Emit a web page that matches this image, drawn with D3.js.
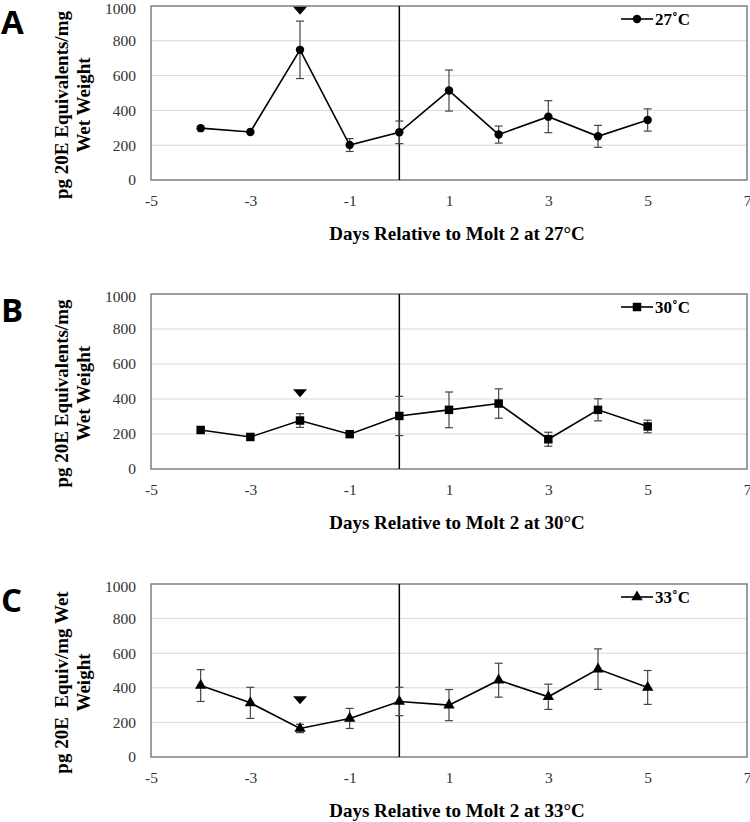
<!DOCTYPE html>
<html><head><meta charset="utf-8">
<script src="https://cdn.jsdelivr.net/npm/d3@7"></script>
<style>body{margin:0;background:#fff} .serif{font-family:'Liberation Serif','Times New Roman',serif}</style>
</head><body><svg id="c" width="750" height="822" xmlns="http://www.w3.org/2000/svg"></svg>
<script>
// ---- data ----
const days = [-4, -3, -2, -1, 0, 1, 2, 3, 4, 5];
const mean27 = [298, 276, 748, 201, 274, 514, 261, 364, 251, 345];
const err27  = [0, 0, 165, 37, 65, 118, 49, 92, 63, 64];
const mean30 = [223, 183, 277, 199, 303, 338, 374, 170, 338, 243];
const err30  = [0, 0, 39, 0, 112, 102, 84, 40, 63, 36];
const mean33 = [413, 313, 165, 223, 321, 300, 444, 348, 508, 402];
const err33  = [92, 90, 24, 58, 82, 90, 98, 73, 117, 98];
const xTicks = [-5, -3, -1, 1, 3, 5, 7];
const yTicks = [0, 200, 400, 600, 800, 1000];
const panelLetters = ["A", "B", "C"];
const seriesNames = ["27\u02daC", "30\u02daC", "33\u02daC"];
const xTitles = ["Days Relative to Molt 2 at 27°C", "Days Relative to Molt 2 at 30°C", "Days Relative to Molt 2 at 33°C"];
const yTitles = [["pg 20E Equivalents/mg", "Wet Weight"], ["pg 20E Equivalents/mg", "Wet Weight"], ["pg 20E  Equiv/mg Wet", "Weight"]];
const arrowDay = [-2, -2, -2];
const arrowVal = [973, 433, 328];
const markerTypes = ["circle", "square", "triangle"];

const panels = [
  {top: 6, bottom: 180, mean: mean27, err: err27},
  {top: 294, bottom: 469, mean: mean30, err: err30},
  {top: 584, bottom: 757, mean: mean33, err: err33}
];

const svg = d3.select("#c");
const left = 151, right = 747;
const serif = "'Liberation Serif','Times New Roman',serif";

function symFor(t) {
  if (t === "circle") return d3.symbol().type(d3.symbolCircle).size(56)();
  if (t === "square") return d3.symbol().type(d3.symbolSquare).size(72)();
  return d3.symbol().type(d3.symbolTriangle).size(56)();
}

panels.forEach((p, i) => {
  const g = svg.append("g");
  const x = d3.scaleLinear().domain([-5, 7]).range([left, right]);
  const y = d3.scaleLinear().domain([0, 1000]).range([p.bottom, p.top]);

  // gridlines
  g.selectAll(".grid").data(yTicks.filter(v => v > 0 && v < 1000)).enter().append("line")
    .attr("x1", left).attr("x2", right).attr("y1", d => y(d)).attr("y2", d => y(d))
    .attr("stroke", "#d9d9d9").attr("stroke-width", 1);

  // plot border
  g.append("rect").attr("x", left).attr("y", p.top).attr("width", right - left).attr("height", p.bottom - p.top)
    .attr("fill", "none").attr("stroke", "#6b6b6b").attr("stroke-width", 1.3);

  // vertical line at molt
  g.append("line").attr("x1", x(0)).attr("x2", x(0)).attr("y1", p.top).attr("y2", p.bottom)
    .attr("stroke", "#000").attr("stroke-width", 1.5);

  // axes with d3 axis, then style
  const yAxis = d3.axisLeft(y).tickValues(yTicks).tickFormat(d => String(d)).tickSize(0).tickPadding(15);
  const ya = g.append("g").attr("transform", `translate(${left},0)`).call(yAxis)
    .attr("font-family", null).attr("font-size", null);
  ya.select(".domain").remove();
  ya.selectAll("text").attr("class", "serif").style("font-family", serif).style("font-size", "15.5px").attr("fill", "#333");
  ya.selectAll(".tick").filter(d => d === 1000).select("text").attr("dy", "0.5em");

  const xAxis = d3.axisBottom(x).tickValues(xTicks).tickFormat(d => String(d)).tickSize(0).tickPadding(15);
  const xa = g.append("g").attr("transform", `translate(0,${p.bottom})`).call(xAxis)
    .attr("font-family", null).attr("font-size", null);
  xa.select(".domain").remove();
  xa.selectAll("text").attr("class", "serif").style("font-family", serif).style("font-size", "15.5px").attr("fill", "#333");

  // error bars
  const eb = g.append("g").attr("stroke", "#444").attr("stroke-width", 1.2);
  days.forEach((d, k) => {
    const e = p.err[k];
    if (!e) return;
    const cx = x(d), y1 = y(p.mean[k] + e), y2 = y(p.mean[k] - e);
    eb.append("line").attr("x1", cx).attr("x2", cx).attr("y1", y1).attr("y2", y2);
    eb.append("line").attr("x1", cx - 4).attr("x2", cx + 4).attr("y1", y1).attr("y2", y1);
    eb.append("line").attr("x1", cx - 4).attr("x2", cx + 4).attr("y1", y2).attr("y2", y2);
  });

  // line
  const line = d3.line().x((d, k) => x(days[k])).y(d => y(d));
  g.append("path").datum(p.mean).attr("d", line).attr("fill", "none").attr("stroke", "#000").attr("stroke-width", 1.6);

  // markers
  g.selectAll(".mk").data(p.mean).enter().append("path")
    .attr("d", symFor(markerTypes[i]))
    .attr("transform", (d, k) => `translate(${x(days[k])},${y(d)})`)
    .attr("fill", "#000");

  // down-arrow annotation
  const ax = x(arrowDay[i]), ay = y(arrowVal[i]);
  g.append("path").attr("d", `M${ax - 7},${ay - 4}L${ax + 7},${ay - 4}L${ax},${ay + 4}Z`).attr("fill", "#000");

  // legend
  const ly = p.top + 13;
  g.append("line").attr("x1", 621).attr("x2", 653).attr("y1", ly).attr("y2", ly).attr("stroke", "#000").attr("stroke-width", 1.6);
  g.append("path").attr("d", symFor(markerTypes[i])).attr("transform", `translate(637,${ly})`).attr("fill", "#000");
  g.append("text").attr("x", 655).attr("y", ly + 6).text(seriesNames[i])
    .style("font-family", serif).attr("font-weight", "bold").style("font-size", "17px").attr("fill", "#000");

  // x axis title
  g.append("text").attr("x", 457).attr("y", p.bottom + 60).attr("text-anchor", "middle")
    .style("font-family", serif).attr("font-weight", "bold").style("font-size", "19px").text(xTitles[i]);

  // y axis title
  const cy = (p.top + p.bottom) / 2 + 12;
  [68, 90].forEach((bx, j) => {
    g.append("text").attr("transform", `translate(${bx},${cy}) rotate(-90)`).attr("text-anchor", "middle")
      .style("font-family", serif).attr("font-weight", "bold").style("font-size", "19px")
      .attr("xml:space", "preserve").style("white-space", "pre")
      .text(yTitles[i][j]);
  });

  // panel letter
  g.append("text").attr("x", 1).attr("y", p.top + 28).text(panelLetters[i])
    .style("font-family", "'Open Sans','Noto Sans',sans-serif").attr("font-weight", "bold").style("font-size", "33px");
});
</script>
</body></html>
